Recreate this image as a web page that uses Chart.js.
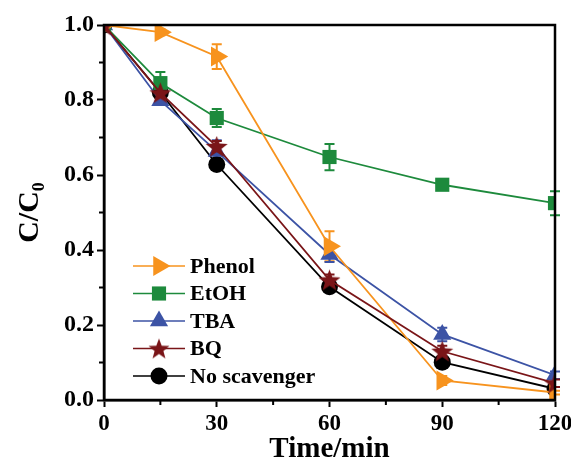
<!DOCTYPE html>
<html>
<head>
<meta charset="utf-8">
<script src="https://cdn.jsdelivr.net/npm/chart.js@4"></script>
<style>
  body { margin: 0; background: #fff; }
  #wrap { width: 571px; height: 467px; }
</style>
</head>
<body>
<div id="wrap"><canvas id="chart1"></canvas></div>
<script>
// data
const times = [0, 15, 30, 60, 90, 120];
const phenol = [1.0, 0.981, 0.916, 0.41, 0.052, 0.02];
const phenolErr = [0, 0.008, 0.033, 0.04, 0.012, 0.005];
const etoh = [1.0, 0.845, 0.752, 0.648, 0.574, 0.525];
const etohErr = [0, 0.03, 0.024, 0.035, 0.01, 0.032];
const tba = [1.0, 0.798, 0.663, 0.388, 0.175, 0.066];
const tbaErr = [0, 0.01, 0.03, 0.02, 0.018, 0.01];
const bq = [1.0, 0.819, 0.676, 0.32, 0.13, 0.045];
const bqErr = [0, 0.01, 0.015, 0.015, 0.015, 0.01];
const noScav = [1.0, 0.82, 0.628, 0.302, 0.101, 0.03];
const noScavErr = [0, 0, 0, 0, 0, 0];

const xTicks = [0, 30, 60, 90, 120];
const yTicks = [0.0, 0.2, 0.4, 0.6, 0.8, 1.0];

const FONT = '"Liberation Serif", "Times New Roman", serif';

// filled 5 point star for BQ
function makeStar(size, color) {
    const c = document.createElement('canvas');
    c.width = size; c.height = size;
    const g = c.getContext('2d');
    const cx = size / 2, cy = size / 2 + 1, R = size / 2, r = R * 0.42;
    g.beginPath();
    for (let i = 0; i < 10; i++) {
        const a = -Math.PI / 2 + i * Math.PI / 5;
        const rr = i % 2 === 0 ? R : r;
        g.lineTo(cx + rr * Math.cos(a), cy + rr * Math.sin(a));
    }
    g.closePath();
    g.fillStyle = color;
    g.fill();
    return c;
}
const starImg = makeStar(23, '#7a1518');
const starSmall = makeStar(22, '#7a1518');

function pts(arr) {
    return arr.map((v, i) => ({ x: times[i], y: v }));
}

const series = [
    { label: 'Phenol', data: phenol, err: phenolErr, color: '#f7931e', style: 'triangle', rot: 90, r: 11.5, order: 2 },
    { label: 'EtOH', data: etoh, err: etohErr, color: '#1d8a3c', style: 'rect', rot: 0, r: 10, order: 3 },
    { label: 'TBA', data: tba, err: tbaErr, color: '#3c53a5', style: 'triangle', rot: 0, r: 10.5, order: 4 },
    { label: 'BQ', data: bq, err: bqErr, color: '#7a1518', style: starImg, rot: 0, r: 11, order: 1 },
    { label: 'No scavenger', data: noScav, err: noScavErr, color: '#000000', style: 'circle', rot: 0, r: 8.5, order: 5 },
];

// error bars, frame, minor ticks and a line+marker legend
const extras = {
    id: 'extras',
    beforeDatasetsDraw(chart) {
        const ctx = chart.ctx;
        const xs = chart.scales.x, ys = chart.scales.y;
        ctx.save();
        ctx.lineWidth = 2;
        series.forEach(s => {
            ctx.strokeStyle = s.color;
            s.data.forEach((v, i) => {
                const e = s.err[i];
                if (!e) return;
                const px = xs.getPixelForValue(times[i]);
                const top = ys.getPixelForValue(v + e);
                const bot = ys.getPixelForValue(v - e);
                ctx.beginPath();
                ctx.moveTo(px, top); ctx.lineTo(px, bot);
                ctx.moveTo(px - 5, top); ctx.lineTo(px + 5, top);
                ctx.moveTo(px - 5, bot); ctx.lineTo(px + 5, bot);
                ctx.stroke();
            });
        });
        ctx.restore();
    },
    afterDraw(chart) {
        const ctx = chart.ctx;
        const a = chart.chartArea;
        const xs = chart.scales.x, ys = chart.scales.y;
        ctx.save();
        // frame
        ctx.strokeStyle = '#000';
        ctx.lineWidth = 2.5;
        ctx.strokeRect(a.left, a.top, a.right - a.left, a.bottom - a.top);
        // minor ticks
        ctx.lineWidth = 2;
        ctx.beginPath();
        [15, 45, 75, 105].forEach(t => {
            const px = xs.getPixelForValue(t);
            ctx.moveTo(px, a.bottom); ctx.lineTo(px, a.bottom + 5);
        });
        [0.1, 0.3, 0.5, 0.7, 0.9].forEach(t => {
            const py = ys.getPixelForValue(t);
            ctx.moveTo(a.left, py); ctx.lineTo(a.left - 5, py);
        });
        ctx.stroke();

        // legend
        const lx = 133, lx2 = 185, tx = 190;
        let ly = 266;
        ctx.font = 'bold 22px ' + FONT;
        ctx.textBaseline = 'middle';
        series.forEach(s => {
            ctx.strokeStyle = s.color;
            ctx.fillStyle = s.color;
            ctx.lineWidth = 1.6;
            ctx.beginPath();
            ctx.moveTo(lx, ly); ctx.lineTo(lx2, ly);
            ctx.stroke();
            Chart.helpers.drawPoint(ctx, {
                pointStyle: s.style === starImg ? starSmall : s.style,
                rotation: s.rot,
                radius: s.r,
                borderWidth: 0
            }, (lx + lx2) / 2, ly);
            ctx.fillStyle = '#000';
            ctx.fillText(s.label, tx, ly + 1);
            ly += 27.5;
        });
        ctx.restore();
    }
};

const ctx = document.getElementById('chart1').getContext('2d');

new Chart(ctx, {
    type: 'line',
    data: {
        datasets: series.map(s => ({
            label: s.label,
            data: pts(s.data),
            borderColor: s.color,
            backgroundColor: s.color,
            borderWidth: 1.8,
            pointStyle: s.style,
            rotation: s.rot,
            pointRadius: s.r,
            pointHoverRadius: s.r,
            pointBorderWidth: 0,
            order: s.order,
            tension: 0,
        })),
    },
    options: {
        responsive: true,
        maintainAspectRatio: false,
        animation: false,
        devicePixelRatio: 1,
        layout: { padding: { top: 25, right: 16, left: 0, bottom: 0 } },
        plugins: {
            legend: { display: false },
            tooltip: { enabled: false },
        },
        scales: {
            x: {
                type: 'linear',
                min: 0,
                max: 120,
                afterBuildTicks: axis => { axis.ticks = xTicks.map(v => ({ value: v })); },
                afterFit: axis => { axis.height = 67; axis.paddingRight = 0; axis.paddingLeft = 0; },
                grid: { drawOnChartArea: false, tickLength: 7, tickWidth: 2, color: '#000' },
                border: { color: '#000', width: 2.5 },
                ticks: {
                    color: '#000',
                    padding: 3,
                    font: { family: FONT, size: 23, weight: 'bold' },
                    maxRotation: 0,
                },
                title: {
                    display: true,
                    text: 'Time/min',
                    color: '#000',
                    padding: { top: 2, bottom: 0 },
                    font: { family: FONT, size: 29, weight: 'bold' },
                },
            },
            y: {
                min: 0,
                max: 1.0,
                afterBuildTicks: axis => { axis.ticks = yTicks.map(v => ({ value: v })); },
                afterFit: axis => { axis.width = 104; },
                grid: { drawOnChartArea: false, tickLength: 7, tickWidth: 2, color: '#000' },
                border: { color: '#000', width: 2.5 },
                ticks: {
                    color: '#000',
                    padding: 3,
                    font: { family: FONT, size: 24, weight: 'bold' },
                    callback: v => v.toFixed(1),
                },
                title: {
                    display: true,
                    text: 'C/C₀',
                    color: '#000',
                    padding: { top: 12, bottom: 0 },
                    font: { family: FONT, size: 30, weight: 'bold' },
                },
            },
        },
    },
    plugins: [extras],
});
</script>
</body>
</html>
